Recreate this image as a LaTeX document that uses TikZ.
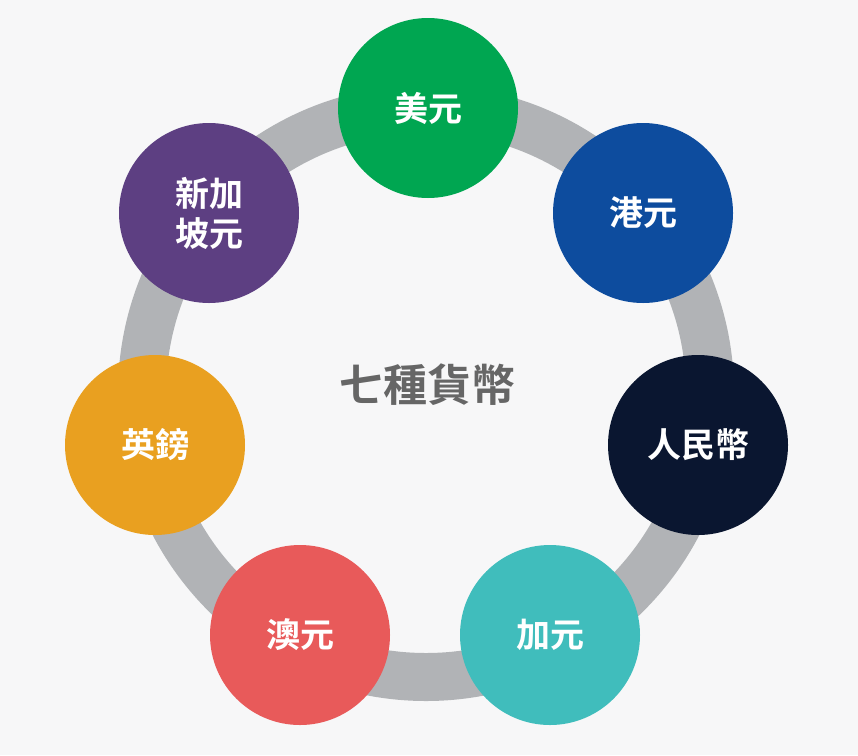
\documentclass[tikz,border=0pt]{standalone}
\usepackage{fontspec}
\newfontfamily\cjk{Noto Sans CJK TC}[BoldFont=* Bold]
\definecolor{bgcol}{HTML}{F7F7F8}
\definecolor{ringcol}{HTML}{B1B3B6}
\definecolor{usdcol}{HTML}{00A651}
\definecolor{hkdcol}{HTML}{0D4C9E}
\definecolor{rmbcol}{HTML}{0A1630}
\definecolor{cadcol}{HTML}{40BDBC}
\definecolor{audcol}{HTML}{E85A5A}
\definecolor{gbpcol}{HTML}{E9A020}
\definecolor{sgdcol}{HTML}{5D3F82}
\definecolor{titlecol}{HTML}{666666}
\begin{document}
\begin{tikzpicture}[x=1pt,y=-1pt,
  coin/.style={circle,minimum size=180pt,inner sep=0pt,text=white,
    font=\cjk\bfseries\fontsize{34}{40}\selectfont,align=center}]
			\fill[bgcol] (0,0) rectangle (858,755);
			\useasboundingbox (0,0) rectangle (858,755);
			\coordinate (C) at (426,393);
			%Ring
			\draw[ringcol,line width=48pt] (C) circle (284);
			%Title
			\node[text=titlecol,font=\cjk\bfseries\fontsize{44}{50}\selectfont] (title) at (427,385) {七種貨幣};
			%Currencies
			\node[coin,fill=usdcol] (usd) at (428,108) {美元};
			\node[coin,fill=hkdcol] (hkd) at (643,213) {港元};
			\node[coin,fill=rmbcol] (rmb) at (698,445) {人民幣};
			\node[coin,fill=cadcol] (cad) at (550,635) {加元};
			\node[coin,fill=audcol] (aud) at (300,635) {澳元};
			\node[coin,fill=gbpcol] (gbp) at (155,445) {英鎊};
			\node[coin,fill=sgdcol] (sgd) at (209,213) {新加\\坡元};
		\end{tikzpicture}
\end{document}
